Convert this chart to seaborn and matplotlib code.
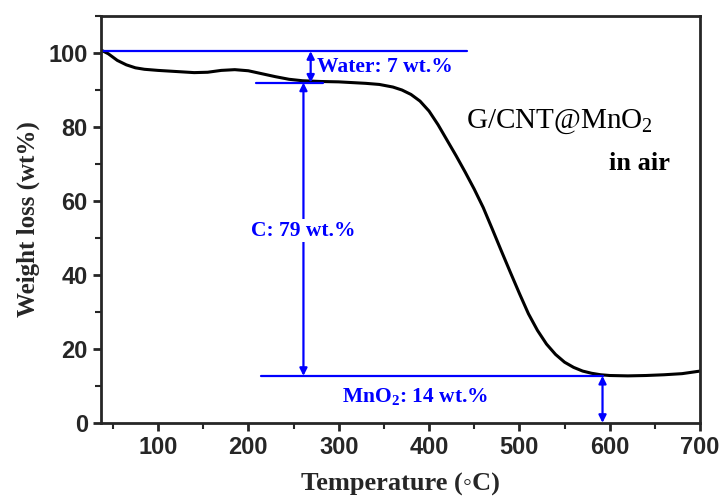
import matplotlib
matplotlib.use("Agg")
import matplotlib.pyplot as plt
import seaborn as sns
import pandas as pd
from matplotlib.ticker import MultipleLocator

# TGA curve
temperature = [37, 45, 55, 65, 75, 85, 100, 120, 140, 155, 170, 185, 200, 215,
               230, 245, 260, 280, 300, 315, 330, 345, 360, 370, 380, 390, 400,
               410, 420, 430, 440, 450, 460, 470, 480, 490, 500, 510, 520, 530,
               540, 550, 560, 570, 580, 590, 600, 620, 640, 660, 680, 700]
weight = [100.8, 99.8, 98.0, 96.8, 96.0, 95.6, 95.3, 95.0, 94.7, 94.8, 95.3, 95.5,
          95.2, 94.4, 93.6, 92.9, 92.5, 92.3, 92.2, 92.0, 91.8, 91.5, 90.8, 90.0,
          88.8, 87.0, 84.3, 80.6, 76.4, 72.2, 67.8, 63.2, 58.2, 52.4, 46.5, 40.7,
          35.0, 29.5, 25.0, 21.3, 18.5, 16.4, 15.0, 14.0, 13.4, 13.0, 12.8, 12.7,
          12.8, 13.0, 13.3, 14.0]

# annotation levels
start_level = 100.5
water_level = 92.0
residue_level = 12.7
water_label = "Water: 7 wt.%"
carbon_label = "C: 79 wt.%"
residue_label = r"MnO$_\mathbf{2}$: 14 wt.%"

sns.set_style("ticks")
plt.rcParams['font.family'] = ['Liberation Sans', 'DejaVu Sans']
plt.rcParams['mathtext.fontset'] = 'custom'
plt.rcParams['mathtext.rm'] = 'Liberation Serif'
plt.rcParams['mathtext.bf'] = 'Liberation Serif:bold'

df = pd.DataFrame({'T': temperature, 'W': weight})

fig = plt.figure(figsize=(7.27, 5.01), dpi=100)
ax = fig.add_axes([0.139, 0.156, 0.824, 0.812])
sns.lineplot(data=df, x='T', y='W', color='black', linewidth=2.2, ax=ax)

ax.set_xlim(37, 700)
ax.set_ylim(0, 110)
ax.xaxis.set_major_locator(MultipleLocator(100))
ax.xaxis.set_minor_locator(MultipleLocator(50))
ax.yaxis.set_major_locator(MultipleLocator(20))
ax.yaxis.set_minor_locator(MultipleLocator(10))
ax.tick_params(which='major', direction='out', length=6, width=2, labelsize=17)
ax.tick_params(which='minor', direction='out', length=4, width=1.5)
for lbl in ax.get_xticklabels() + ax.get_yticklabels():
    lbl.set_fontweight('bold')
for s in ax.spines.values():
    s.set_linewidth(2)

ax.set_xlabel("Temperature (\u25e6C)", fontsize=19, fontweight='bold',
              family='Liberation Serif', labelpad=10)
ax.set_ylabel("Weight loss (wt%)", fontsize=18, fontweight='bold',
              family='Liberation Serif', labelpad=6)

blue = '#0000ff'
serif = 'Liberation Serif'

# horizontal reference lines
ax.plot([37, 442], [start_level, start_level], color=blue, lw=1.6)
ax.plot([209, 283], [water_level, water_level], color=blue, lw=1.6)
ax.plot([214, 592], [residue_level, residue_level], color=blue, lw=1.6)

arrow = dict(arrowstyle='<|-|>', color=blue, lw=1.6, mutation_scale=11,
             shrinkA=0, shrinkB=0)
ax.annotate('', xy=(269, water_level), xytext=(269, start_level), arrowprops=arrow)
ax.annotate('', xy=(261, residue_level), xytext=(261, water_level), arrowprops=arrow)
ax.annotate('', xy=(592, 0), xytext=(592, residue_level), arrowprops=arrow)

ax.text(276, 96.3, water_label, color=blue, fontsize=15.5, fontweight='bold',
        family=serif, ha='left', va='center')
ax.text(261, 52, carbon_label, color=blue, fontsize=15.5, fontweight='bold',
        family=serif, ha='center', va='center',
        bbox=dict(facecolor='white', edgecolor='none', pad=1))
ax.text(385, 7, residue_label, color=blue, fontsize=15.5, fontweight='bold',
        family=serif, ha='center', va='center')

ax.text(441, 81.5, r"G/CNT@MnO$_\mathrm{2}$", color='black', fontsize=21,
        family=serif, ha='left', va='center')
ax.text(633, 70, "in air", color='black', fontsize=19, fontweight='bold',
        family=serif, ha='center', va='center')

fig.savefig("out.png", dpi=100)
